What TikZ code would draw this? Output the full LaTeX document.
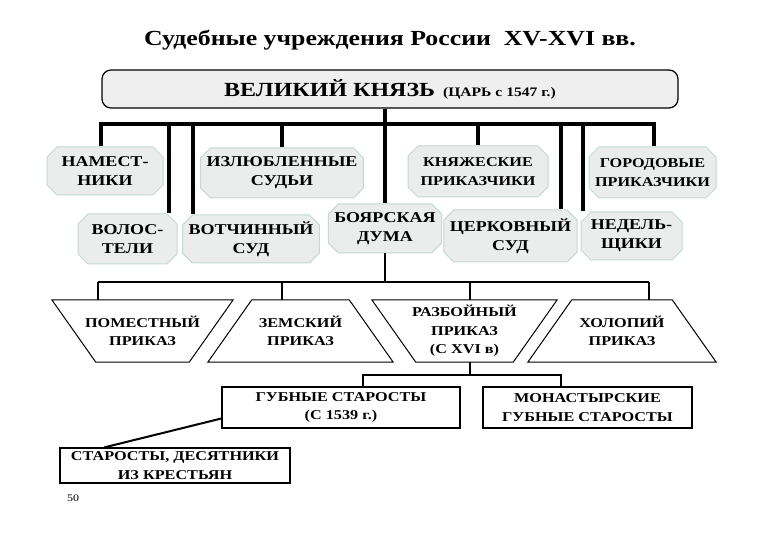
\documentclass[tikz,border=0pt]{standalone}
\usepackage{fontspec}
\setmainfont{Liberation Serif}[FakeStretch=1.2]
\usetikzlibrary{shapes.misc}
\definecolor{boxfill}{HTML}{EAEDEB}
\definecolor{boxline}{HTML}{C3D9D3}
\definecolor{topfill}{HTML}{EFEFEF}

\begin{document}
\begin{tikzpicture}[x=1pt, y=1pt,
  every node/.style={inner sep=1pt, align=center, font=\bfseries\fontsize{15}{19}\selectfont},
  bevel/.style={chamfered rectangle, chamfered rectangle sep=5pt, draw=boxline, fill=boxfill, line width=1pt},
  small/.style={font=\bfseries\fontsize{13.5}{18.5}\selectfont},
  trap/.style={small, inner sep=0pt, minimum width=185pt, minimum height=62pt},
  office/.style={small, draw, line width=1.2pt, inner sep=0pt},
  bus/.style={line width=4pt},
  link/.style={line width=1.2pt}]
  \useasboundingbox (0,0) rectangle (780,540);
  \node[font=\bfseries\fontsize{21.5}{24}\selectfont] (title) at (390,500) {Судебные учреждения России\ \ XV-XVI вв.};
  \node[draw, line width=1.2pt, rounded corners=9pt, fill=topfill, minimum width=576pt, minimum height=38pt] (velkn) at (390,451)
    {{\fontsize{20}{22}\selectfont ВЕЛИКИЙ КНЯЗЬ}\hspace{8pt}{\fontsize{13}{15}\selectfont (ЦАРЬ с 1547 г.)}};
  \node[bevel, minimum width=116pt, minimum height=48pt] (nam) at (105,369) {НАМЕСТ-\\НИКИ};
  \node[bevel, minimum width=160pt, minimum height=50pt] (izl) at (282,367) {ИЗЛЮБЛЕННЫЕ\\СУДЬИ};
  \node[bevel, small, minimum width=140pt, minimum height=51pt] (knpr) at (478,368.5) {КНЯЖЕСКИЕ\\ПРИКАЗЧИКИ};
  \node[bevel, small, minimum width=127pt, minimum height=51pt] (gor) at (652.5,367.5) {ГОРОДОВЫЕ\\ПРИКАЗЧИКИ};
  \node[bevel, minimum width=99pt, minimum height=50pt] (volost) at (127.5,301) {ВОЛОС-\\ТЕЛИ};
  \node[bevel, minimum width=128pt, minimum height=48pt] (votch) at (251,301) {ВОТЧИННЫЙ\\СУД};
  \node[bevel, minimum width=106pt, minimum height=49pt] (duma) at (385,311.5) {БОЯРСКАЯ\\ДУМА};
  \node[bevel, minimum width=127pt, minimum height=52pt] (cerk) at (510.5,304) {ЦЕРКОВНЫЙ\\СУД};
  \node[bevel, minimum width=101pt, minimum height=48pt] (nedel) at (631.5,304) {НЕДЕЛЬ-\\ЩИКИ};
  \node[trap, minimum width=181pt] (pom) at (142.5,209) {ПОМЕСТНЫЙ\\ПРИКАЗ};
  \node[trap] (zem) at (300.5,209) {ЗЕМСКИЙ\\ПРИКАЗ};
  \node[trap] (razb) at (464.5,209) {РАЗБОЙНЫЙ\\ПРИКАЗ\\(С XVI в)};
  \node[trap, minimum width=188pt] (khol) at (622,209) {ХОЛОПИЙ\\ПРИКАЗ};
  \draw[line width=1pt] (pom.north west) -- (pom.north east) -- ([xshift=-44pt]pom.south east) -- ([xshift=44pt]pom.south west) -- cycle;
  \draw[line width=1pt] (zem.south west) -- (zem.south east) -- ([xshift=-44pt]zem.north east) -- ([xshift=44pt]zem.north west) -- cycle;
  \draw[line width=1pt] (razb.north west) -- (razb.north east) -- ([xshift=-44pt]razb.south east) -- ([xshift=44pt]razb.south west) -- cycle;
  \draw[line width=1pt] (khol.south west) -- (khol.south east) -- ([xshift=-44pt]khol.north east) -- ([xshift=44pt]khol.north west) -- cycle;
  \node[office, minimum width=238pt, minimum height=41pt] (gub) at (341,132.5) {ГУБНЫЕ СТАРОСТЫ\\(С 1539 г.)};
  \node[office, minimum width=209pt, minimum height=41pt] (mon) at (587.5,132.5) {МОНАСТЫРСКИЕ\\ГУБНЫЕ СТАРОСТЫ};
  \node[office, minimum width=230pt, minimum height=35pt] (star) at (175,74.5) {СТАРОСТЫ, ДЕСЯТНИКИ\\ИЗ КРЕСТЬЯН};
  \node[font=\fontsize{10}{12}\selectfont] (page) at (73,42) {50};
  \coordinate (t-nam) at (101,416);
  \coordinate (t-vol) at (169,416);
  \coordinate (t-vot) at (193,416);
  \coordinate (t-cer) at (561,416);
  \coordinate (t-ned) at (583,416);
  \coordinate (t-gor) at (654,416);
  \draw[bus] (velkn.south -| duma.north) -- (duma.north);
  \draw[bus] (t-nam |- nam.north) -- (t-nam) -- (t-gor) -- (t-gor |- gor.north);
  \draw[bus] (t-vol) -- (t-vol |- volost.north);
  \draw[bus] (t-vot) -- (t-vot |- votch.north);
  \draw[bus] (izl.north |- t-nam) -- (izl.north);
  \draw[bus] (knpr.north |- t-nam) -- (knpr.north);
  \draw[bus] (t-cer) -- (t-cer |- cerk.north);
  \draw[bus] (t-ned) -- (t-ned |- nedel.north);
  \coordinate (l-pom) at (98,258);
  \coordinate (l-zem) at (282,258);
  \coordinate (l-raz) at (470,258);
  \coordinate (l-hol) at (649,258);
  \draw[link] (duma.south) -- (duma.south |- l-pom);
  \draw[line width=2pt] (l-pom) -- (l-hol);
  \draw[link] (l-pom) -- (l-pom |- pom.north);
  \draw[link] (l-zem) -- (l-zem |- zem.north);
  \draw[link] (l-raz) -- (l-raz |- razb.north);
  \draw[link] (l-hol) -- (l-hol |- khol.north);
  \coordinate (g-raz) at (470,165);
  \coordinate (g-gub) at (363,165);
  \coordinate (g-mon) at (561,165);
  \draw[link] (g-raz |- razb.south) -- (g-raz);
  \draw[link] (g-gub |- gub.north) -- (g-gub) -- (g-mon) -- (g-mon |- mon.north);
  \draw[line width=2pt] ([yshift=-11pt]gub.west) -- ([xshift=45pt]star.north west);
\end{tikzpicture}
\end{document}
